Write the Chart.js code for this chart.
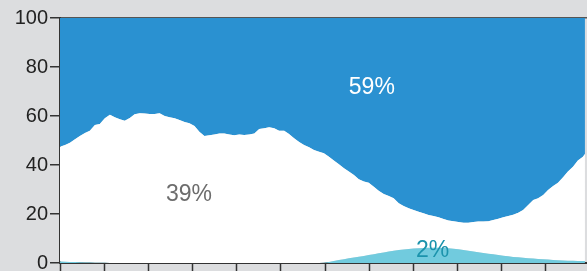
<!DOCTYPE html>
<html>
<head>
<meta charset="utf-8">
<script src="https://cdn.jsdelivr.net/npm/chart.js@4/dist/chart.umd.min.js"></script>
<style>
  html, body { margin: 0; padding: 0; overflow: hidden; background: #dcdddf; }
  #wrap { width: 593px; height: 277px; }
</style>
</head>
<body>
<div id="wrap"><canvas id="chart"></canvas></div>
<script>
// hour of day for each sample
const hours = [
  0.00, 0.23, 0.45, 0.68, 0.90, 1.13, 1.35, 1.58, 1.80, 2.03,
  2.26, 2.48, 2.71, 2.93, 3.16, 3.38, 3.61, 3.83, 4.06, 4.29,
  4.51, 4.74, 4.96, 5.19, 5.41, 5.64, 5.86, 6.09, 6.31, 6.54,
  6.77, 6.99, 7.22, 7.44, 7.67, 7.89, 8.12, 8.34, 8.57, 8.80,
  9.02, 9.25, 9.47, 9.70, 9.92, 10.15, 10.37, 10.60, 10.83, 11.05,
  11.28, 11.50, 11.73, 11.95, 12.18, 12.40, 12.63, 12.86, 13.08, 13.31,
  13.53, 13.76, 13.98, 14.21, 14.43, 14.66, 14.89, 15.11, 15.34, 15.56,
  15.79, 16.01, 16.24, 16.46, 16.69, 16.91, 17.14, 17.37, 17.59, 17.82,
  18.04, 18.27, 18.49, 18.72, 18.94, 19.17, 19.40, 19.62, 19.85, 20.07,
  20.30, 20.52, 20.75, 20.97, 21.20, 21.43, 21.65, 21.88, 22.10, 22.33,
  22.55, 22.78, 23.00, 23.23, 23.45, 23.68, 23.77
];

// top series (59%)
const blueShare = [
  52.5, 51.8, 50.9, 49.5, 48.2, 46.9, 46.0, 43.7, 43.3, 40.9,
  39.5, 40.5, 41.3, 41.9, 40.8, 39.3, 38.9, 39.0, 39.2, 39.2,
  38.9, 40.0, 40.5, 40.9, 41.6, 42.4, 43.0, 44.1, 46.4, 48.2,
  47.9, 47.6, 47.1, 47.1, 47.6, 47.9, 47.6, 47.8, 47.6, 47.1,
  45.3, 45.0, 44.6, 45.0, 46.0, 46.0, 47.3, 49.1, 50.6, 51.8,
  52.8, 53.9, 54.6, 55.2, 56.6, 58.2, 59.7, 61.3, 62.7, 64.1,
  65.8, 66.7, 67.2, 68.9, 70.5, 71.8, 72.7, 73.6, 75.6, 76.7,
  77.7, 78.4, 79.1, 79.7, 80.4, 80.8, 81.3, 82.0, 82.7, 83.0,
  83.3, 83.6, 83.6, 83.3, 83.1, 83.1, 83.0, 82.4, 81.9, 81.3,
  80.8, 80.3, 79.5, 78.4, 76.3, 74.3, 73.6, 72.2, 70.2, 68.6,
  67.2, 65.0, 62.7, 60.7, 58.2, 56.6, 55.5
];

// bottom series (2%)
const cyanShare = [
  0.6, 0.5, 0.45, 0.4, 0.3, 0.25, 0.2, 0.15, 0.1, 0.1,
  0.05, 0, 0, 0, 0, 0, 0, 0, 0, 0,
  0, 0, 0, 0, 0, 0, 0, 0, 0, 0,
  0, 0, 0, 0, 0, 0, 0, 0, 0, 0,
  0, 0, 0, 0, 0, 0, 0, 0, 0, 0,
  0, 0, 0, 0.1, 0.4, 0.8, 1.2, 1.5, 1.9, 2.2,
  2.6, 2.9, 3.3, 3.6, 4.0, 4.3, 4.7, 5.0, 5.3, 5.5,
  5.7, 5.9, 6.0, 6.1, 6.2, 6.2, 6.2, 6.1, 6.0, 5.8,
  5.6, 5.3, 5.0, 4.7, 4.4, 4.1, 3.8, 3.6, 3.3, 3.0,
  2.8, 2.5, 2.3, 2.1, 1.9, 1.8, 1.6, 1.5, 1.4, 1.2,
  1.1, 1.0, 0.9, 0.9, 0.8, 0.8, 0.8
];

// middle series (39%) is what is left
const whiteShare = blueShare.map((b, i) => +(100 - b - cyanShare[i]).toFixed(2));

const yTicks = [0, 20, 40, 60, 80, 100];

const shareLabels = [
  { text: '59%', hour: 14.12, value: 71.4, color: '#ffffff' },
  { text: '39%', hour: 5.84,  value: 27.8, color: '#6d6d6d' },
  { text: '2%',  hour: 16.87, value: 5.0,  color: '#1b93ac' },
];

const FONT = 'Liberation Sans, Arial, Helvetica, sans-serif';

const toPoints = arr => arr.map((v, i) => ({ x: hours[i], y: v }));

const areaStyle = color => ({
  borderWidth: 0,
  borderColor: color,
  backgroundColor: color,
  pointRadius: 0,
  tension: 0,
});

const labelPlugin = {
  id: 'shareLabels',
  afterDatasetsDraw(chart) {
    const { ctx, scales } = chart;
    ctx.save();
    ctx.font = '23px ' + FONT;
    ctx.textAlign = 'center';
    ctx.textBaseline = 'middle';
    shareLabels.forEach(l => {
      ctx.fillStyle = l.color;
      ctx.fillText(l.text, scales.x.getPixelForValue(l.hour), scales.y.getPixelForValue(l.value));
    });
    ctx.restore();
  },
};

new Chart(document.getElementById('chart'), {
  type: 'line',
  data: {
    datasets: [
      { label: 'cyan',  data: toPoints(cyanShare),  fill: 'origin', ...areaStyle('#71cbde') },
      { label: 'white', data: toPoints(whiteShare), fill: '-1',     ...areaStyle('#ffffff') },
      { label: 'blue',  data: toPoints(blueShare),  fill: '-1',     ...areaStyle('#2a91d1') },
    ],
  },
  options: {
    responsive: true,
    maintainAspectRatio: false,
    animation: false,
    events: [],
    layout: { padding: { top: 18, right: 1, left: 0, bottom: 0 } },
    plugins: { legend: { display: false }, tooltip: { enabled: false } },
    scales: {
      x: {
        type: 'linear',
        min: 0,
        max: 24,
        ticks: { stepSize: 2, callback: () => '' },
        grid: { drawOnChartArea: false, drawTicks: true, tickLength: 8, tickColor: '#333', tickWidth: 1.5 },
        border: { color: '#333', width: 2 },
        afterFit: s => { s.height = 8; },
      },
      y: {
        stacked: true,
        min: 0,
        max: 100,
        afterBuildTicks: s => { s.ticks = yTicks.map(v => ({ value: v })); },
        ticks: { color: '#222', font: { family: FONT, size: 20 }, padding: 2 },
        grid: {
          color: c => (c.tick && c.tick.value === 100 ? '#555' : 'rgba(0,0,0,0)'),
          lineWidth: 1.5,
          tickLength: 10,
          tickColor: '#333',
          tickWidth: 1.5,
        },
        border: { color: '#333', width: 2 },
        afterFit: s => { s.width = 60; },
      },
    },
  },
  plugins: [labelPlugin],
});
</script>
</body>
</html>
